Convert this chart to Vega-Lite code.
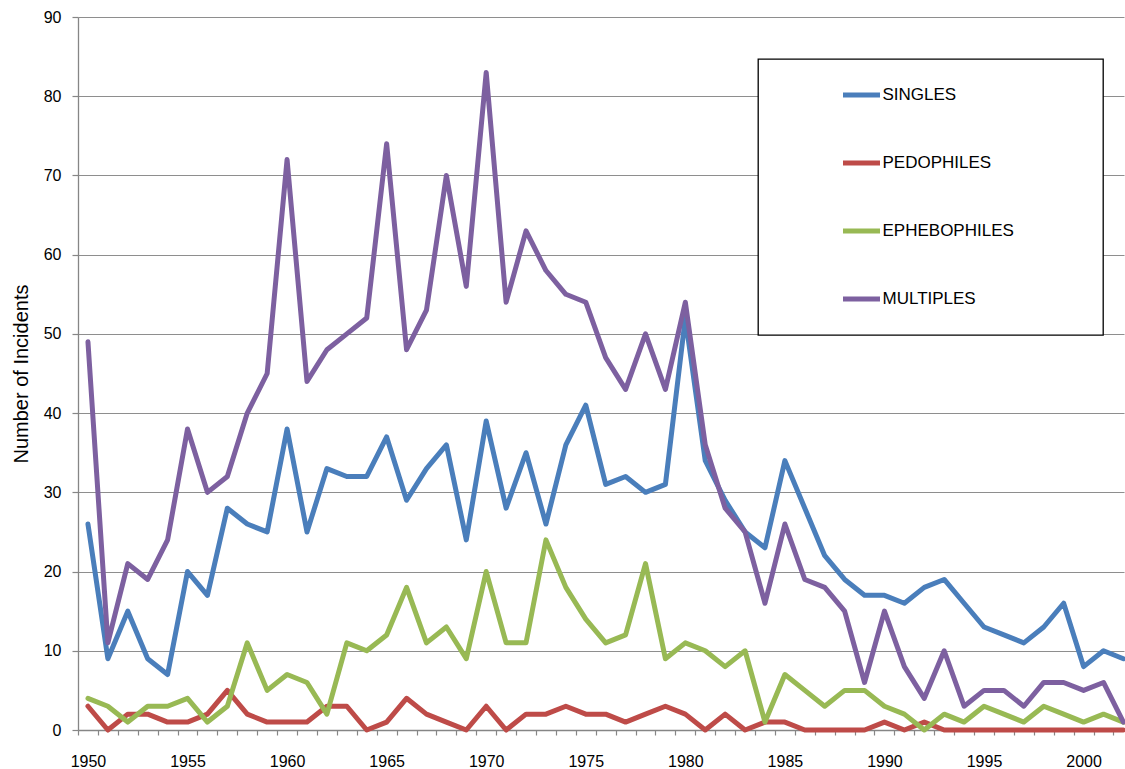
{
  "$schema": "https://vega.github.io/schema/vega-lite/v6.json",
  "width": 1046,
  "height": 713,
  "autosize": {"type": "none"},
  "padding": {"left": 78, "top": 17, "right": 1, "bottom": 39},
  "background": "white",
  "config": {"view": {"stroke": null}, "font": "Liberation Sans"},
  "data": {"values": [
    {"year":1950,"Singles":26,"Pedophiles":3,"Ephebophiles":4,"Multiples":49},
    {"year":1951,"Singles":9,"Pedophiles":0,"Ephebophiles":3,"Multiples":11},
    {"year":1952,"Singles":15,"Pedophiles":2,"Ephebophiles":1,"Multiples":21},
    {"year":1953,"Singles":9,"Pedophiles":2,"Ephebophiles":3,"Multiples":19},
    {"year":1954,"Singles":7,"Pedophiles":1,"Ephebophiles":3,"Multiples":24},
    {"year":1955,"Singles":20,"Pedophiles":1,"Ephebophiles":4,"Multiples":38},
    {"year":1956,"Singles":17,"Pedophiles":2,"Ephebophiles":1,"Multiples":30},
    {"year":1957,"Singles":28,"Pedophiles":5,"Ephebophiles":3,"Multiples":32},
    {"year":1958,"Singles":26,"Pedophiles":2,"Ephebophiles":11,"Multiples":40},
    {"year":1959,"Singles":25,"Pedophiles":1,"Ephebophiles":5,"Multiples":45},
    {"year":1960,"Singles":38,"Pedophiles":1,"Ephebophiles":7,"Multiples":72},
    {"year":1961,"Singles":25,"Pedophiles":1,"Ephebophiles":6,"Multiples":44},
    {"year":1962,"Singles":33,"Pedophiles":3,"Ephebophiles":2,"Multiples":48},
    {"year":1963,"Singles":32,"Pedophiles":3,"Ephebophiles":11,"Multiples":50},
    {"year":1964,"Singles":32,"Pedophiles":0,"Ephebophiles":10,"Multiples":52},
    {"year":1965,"Singles":37,"Pedophiles":1,"Ephebophiles":12,"Multiples":74},
    {"year":1966,"Singles":29,"Pedophiles":4,"Ephebophiles":18,"Multiples":48},
    {"year":1967,"Singles":33,"Pedophiles":2,"Ephebophiles":11,"Multiples":53},
    {"year":1968,"Singles":36,"Pedophiles":1,"Ephebophiles":13,"Multiples":70},
    {"year":1969,"Singles":24,"Pedophiles":0,"Ephebophiles":9,"Multiples":56},
    {"year":1970,"Singles":39,"Pedophiles":3,"Ephebophiles":20,"Multiples":83},
    {"year":1971,"Singles":28,"Pedophiles":0,"Ephebophiles":11,"Multiples":54},
    {"year":1972,"Singles":35,"Pedophiles":2,"Ephebophiles":11,"Multiples":63},
    {"year":1973,"Singles":26,"Pedophiles":2,"Ephebophiles":24,"Multiples":58},
    {"year":1974,"Singles":36,"Pedophiles":3,"Ephebophiles":18,"Multiples":55},
    {"year":1975,"Singles":41,"Pedophiles":2,"Ephebophiles":14,"Multiples":54},
    {"year":1976,"Singles":31,"Pedophiles":2,"Ephebophiles":11,"Multiples":47},
    {"year":1977,"Singles":32,"Pedophiles":1,"Ephebophiles":12,"Multiples":43},
    {"year":1978,"Singles":30,"Pedophiles":2,"Ephebophiles":21,"Multiples":50},
    {"year":1979,"Singles":31,"Pedophiles":3,"Ephebophiles":9,"Multiples":43},
    {"year":1980,"Singles":52,"Pedophiles":2,"Ephebophiles":11,"Multiples":54},
    {"year":1981,"Singles":34,"Pedophiles":0,"Ephebophiles":10,"Multiples":36},
    {"year":1982,"Singles":29,"Pedophiles":2,"Ephebophiles":8,"Multiples":28},
    {"year":1983,"Singles":25,"Pedophiles":0,"Ephebophiles":10,"Multiples":25},
    {"year":1984,"Singles":23,"Pedophiles":1,"Ephebophiles":1,"Multiples":16},
    {"year":1985,"Singles":34,"Pedophiles":1,"Ephebophiles":7,"Multiples":26},
    {"year":1986,"Singles":28,"Pedophiles":0,"Ephebophiles":5,"Multiples":19},
    {"year":1987,"Singles":22,"Pedophiles":0,"Ephebophiles":3,"Multiples":18},
    {"year":1988,"Singles":19,"Pedophiles":0,"Ephebophiles":5,"Multiples":15},
    {"year":1989,"Singles":17,"Pedophiles":0,"Ephebophiles":5,"Multiples":6},
    {"year":1990,"Singles":17,"Pedophiles":1,"Ephebophiles":3,"Multiples":15},
    {"year":1991,"Singles":16,"Pedophiles":0,"Ephebophiles":2,"Multiples":8},
    {"year":1992,"Singles":18,"Pedophiles":1,"Ephebophiles":0,"Multiples":4},
    {"year":1993,"Singles":19,"Pedophiles":0,"Ephebophiles":2,"Multiples":10},
    {"year":1994,"Singles":16,"Pedophiles":0,"Ephebophiles":1,"Multiples":3},
    {"year":1995,"Singles":13,"Pedophiles":0,"Ephebophiles":3,"Multiples":5},
    {"year":1996,"Singles":12,"Pedophiles":0,"Ephebophiles":2,"Multiples":5},
    {"year":1997,"Singles":11,"Pedophiles":0,"Ephebophiles":1,"Multiples":3},
    {"year":1998,"Singles":13,"Pedophiles":0,"Ephebophiles":3,"Multiples":6},
    {"year":1999,"Singles":16,"Pedophiles":0,"Ephebophiles":2,"Multiples":6},
    {"year":2000,"Singles":8,"Pedophiles":0,"Ephebophiles":1,"Multiples":5},
    {"year":2001,"Singles":10,"Pedophiles":0,"Ephebophiles":2,"Multiples":6},
    {"year":2002,"Singles":9,"Pedophiles":0,"Ephebophiles":1,"Multiples":1}
  ]},
  "transform": [
    {"fold": ["Singles", "Pedophiles", "Ephebophiles", "Multiples"], "as": ["series", "incidents"]}
  ],
  "mark": {"type": "line", "strokeWidth": 5, "strokeJoin": "round", "strokeCap": "round"},
  "encoding": {
    "x": {
      "field": "year",
      "type": "quantitative",
      "scale": {"domain": [1949.5, 2002.03], "nice": false, "zero": false},
      "axis": {
        "title": null,
        "values": [1950,1955,1960,1965,1970,1975,1980,1985,1990,1995,2000,1949.5,1950.5,1951.5,1952.5,1953.5,1954.5,1955.5,1956.5,1957.5,1958.5,1959.5,1960.5,1961.5,1962.5,1963.5,1964.5,1965.5,1966.5,1967.5,1968.5,1969.5,1970.5,1971.5,1972.5,1973.5,1974.5,1975.5,1976.5,1977.5,1978.5,1979.5,1980.5,1981.5,1982.5,1983.5,1984.5,1985.5,1986.5,1987.5,1988.5,1989.5,1990.5,1991.5,1992.5,1993.5,1994.5,1995.5,1996.5,1997.5,1998.5,1999.5,2000.5,2001.5],
        "labelExpr": "datum.value % 5 === 0 ? toString(datum.value) : ''",
        "labelOverlap": false,
        "labelFlush": false,
        "labelFont": "Liberation Sans",
        "labelFontSize": 16,
        "labelColor": "#000000",
        "labelPadding": 18,
        "tickSize": 5,
        "tickColor": "#868686",
        "tickWidth": 1.2,
        "tickOpacity": {"condition": {"test": "datum.value % 1 === 0", "value": 0}, "value": 1},
        "domainColor": "#868686",
        "domainWidth": 1.3,
        "grid": false
      }
    },
    "y": {
      "field": "incidents",
      "type": "quantitative",
      "scale": {"domain": [0, 90], "nice": false},
      "axis": {
        "title": "Number of Incidents",
        "values": [0,10,20,30,40,50,60,70,80,90],
        "grid": true,
        "gridColor": "#8e8e8e",
        "gridWidth": 1.2,
        "domainColor": "#868686",
        "domainWidth": 1.3,
        "tickColor": "#868686",
        "tickWidth": 1.2,
        "tickSize": 6,
        "labelFont": "Liberation Sans",
        "labelFontSize": 16,
        "labelColor": "#000000",
        "labelPadding": 11,
        "labelFlush": false,
        "titleFont": "Liberation Sans",
        "titleFontSize": 20,
        "titleFontWeight": "normal",
        "titleColor": "#000000",
        "titlePadding": 12
      }
    },
    "color": {
      "field": "series",
      "type": "nominal",
      "scale": {
        "domain": ["Singles", "Pedophiles", "Ephebophiles", "Multiples"],
        "range": ["#4A7EBB", "#BE4B48", "#98B954", "#7D60A0"]
      },
      "legend": {
        "orient": "none",
        "legendX": 680,
        "legendY": 42,
        "title": "\u00a0",
        "titleOrient": "right",
        "titleFontSize": 17,
        "titleColor": "#000000",
        "titlePadding": 73,
        "padding": 16,
        "clipHeight": 40,
        "rowPadding": 28,
        "symbolType": "stroke",
        "symbolSize": 1369,
        "symbolStrokeWidth": 5,
        "symbolOffset": 66.5,
        "labelOffset": 0,
        "labelFont": "Liberation Sans",
        "labelFontSize": 17,
        "labelColor": "#000000",
        "labelLimit": 300,
        "labelExpr": "upper(datum.label)",
        "strokeColor": "#000000",
        "fillColor": "white",
        "encode": {"legend": {"update": {"strokeWidth": {"value": 1.3}}}}
      }
    }
  }
}
